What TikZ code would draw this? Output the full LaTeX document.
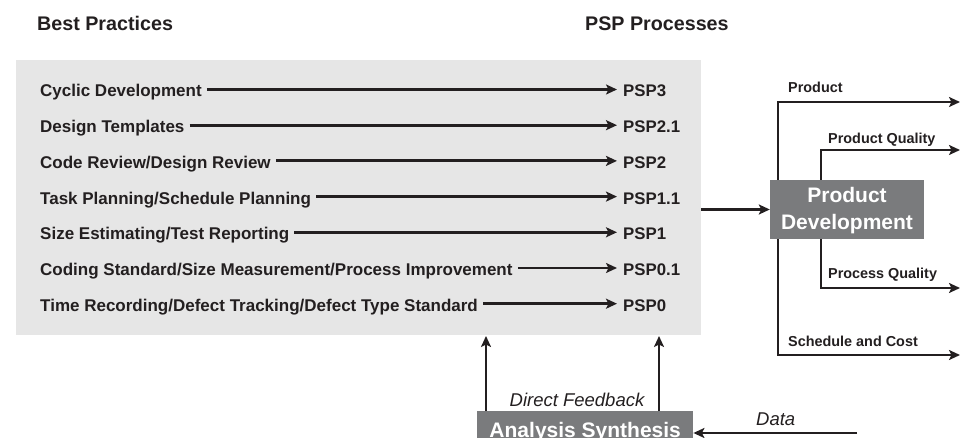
\documentclass[tikz,border=0pt]{standalone}
\usepackage{fontspec}
\setmainfont{Liberation Sans}
\usetikzlibrary{arrows.meta}
\definecolor{ink}{HTML}{231F20}
\definecolor{panel}{HTML}{E6E6E6}
\definecolor{boxgray}{HTML}{7A7B7D}
\begin{document}
\begin{tikzpicture}[x=1pt,y=-1pt,
  arr/.style={draw=ink, line width=2.8pt, -{Stealth[length=11pt,width=10pt,inset=2.5pt]}},
  practice/.style={anchor=west, inner xsep=5pt, inner ysep=0pt, text height=15pt, text depth=0pt,
    font=\fontsize{17}{20}\selectfont\bfseries, text=ink},
  psp/.style={anchor=west, inner xsep=6pt, inner ysep=0pt, text height=15pt, text depth=0pt,
    font=\fontsize{16.8}{20}\selectfont\bfseries, text=ink},
  title/.style={anchor=base west, inner sep=0pt, font=\fontsize{19.7}{23}\selectfont\bfseries, text=ink},
  side/.style={anchor=base west, inner sep=0pt, font=\fontsize{14.4}{17}\selectfont\bfseries, text=ink},
  darkbox/.style={fill=boxgray, text=white, inner sep=0pt, font=\fontsize{21}{27}\selectfont\bfseries},
  fb/.style={inner sep=0pt, font=\fontsize{18.5}{22}\selectfont\itshape, text=ink}
]
\useasboundingbox (0,0) rectangle (969,438);
\clip (0,0) rectangle (969,438);

% titles
\node[title] (t1) at (37,31) {Best Practices};
\node[title] (t2) at (585,31) {PSP Processes};

% panel
\node[fill=panel, minimum width=685pt, minimum height=275pt, anchor=north west, inner sep=0pt] (bp) at (16,60) {};

% practice rows
\node[practice] (l1) at (35,89.5) {Cyclic Development};
\node[practice] (l2) at (35,125.2) {Design Templates};
\node[practice] (l3) at (35,160.9) {Code Review/Design Review};
\node[practice] (l4) at (35,196.6) {Task Planning/Schedule Planning};
\node[practice] (l5) at (35,232.3) {Size Estimating/Test Reporting};
\node[practice] (l6) at (35,268) {Coding Standard/Size Measurement/Process Improvement};
\node[practice] (l7) at (35,303.7) {Time Recording/Defect Tracking/Defect Type Standard};

\node[psp] (p1) at (617,89.5) {PSP3};
\node[psp] (p2) at (617,125.2) {PSP2.1};
\node[psp] (p3) at (617,160.9) {PSP2};
\node[psp] (p4) at (617,196.6) {PSP1.1};
\node[psp] (p5) at (617,232.3) {PSP1};
\node[psp] (p6) at (617,268) {PSP0.1};
\node[psp] (p7) at (617,303.7) {PSP0};

\foreach \i in {1,...,7} {\draw[arr] (l\i.east) -- (p\i.west);}

% output lines
\coordinate (pTop) at (778,102);
\coordinate (pBot) at (778,355);
\coordinate (pEnd) at (960,102);
\coordinate (sEnd) at (960,355);
\coordinate (qTop) at (821,150);
\coordinate (qBot) at (821,288);
\coordinate (qEnd) at (960,150);
\coordinate (rEnd) at (960,288);
\draw[arr] (pBot) |- (pEnd);
\draw[arr] (pTop) |- (sEnd);
\draw[arr] (qBot) |- (qEnd);
\draw[arr] (qTop) |- (rEnd);

\node[side] (o1) at (788,93) {Product};
\node[side] (o2) at (828,144) {Product Quality};
\node[side] (o3) at (828,279) {Process Quality};
\node[side] (o4) at (788,346) {Schedule and Cost};

% product development
\node[darkbox, minimum width=154pt, minimum height=59pt, align=center] (pd) at (847,209.5) {\rule{0pt}{17pt}Product\\Development};
\draw[arr] (bp.east |- pd.west) -- (pd.west);

% analysis synthesis
\node[darkbox, minimum width=216pt, minimum height=38pt, anchor=north west, text height=15pt, text depth=0pt] (as) at (477,411) {Analysis Synthesis};

\coordinate (f1) at (486,336);
\coordinate (f2) at (659,336);
\draw[arr] (as.north -| f1) -- (f1);
\draw[arr] (as.north -| f2) -- (f2);
\node[fb, anchor=base] (dfb) at (577,406) {Direct Feedback};

\coordinate (d0) at (857,433);
\draw[arr] (d0) -- (d0 -| as.east);
\node[fb, anchor=base west] (dl) at (756,425.5) {Data};
\end{tikzpicture}
\end{document}
